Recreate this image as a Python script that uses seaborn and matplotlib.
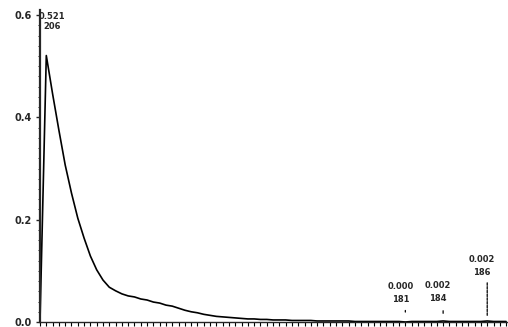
import matplotlib
matplotlib.use("Agg")
import matplotlib.pyplot as plt
import seaborn as sns
import pandas as pd

sns.set_style("ticks")
plt.rcParams["font.family"] = ["DejaVu Sans"]

# data: index along x and its frequency
steps = list(range(75))
freq = [0.000, 0.521, 0.446, 0.375, 0.307, 0.252, 0.203, 0.164, 0.129, 0.102,
        0.082, 0.068, 0.061, 0.055, 0.051, 0.049, 0.045, 0.043, 0.039, 0.037,
        0.033, 0.031, 0.027, 0.023, 0.020, 0.018, 0.015, 0.013, 0.011, 0.010,
        0.009, 0.008, 0.007, 0.006, 0.006, 0.005, 0.005, 0.004, 0.004, 0.004,
        0.003, 0.003, 0.003, 0.003, 0.002, 0.002, 0.002, 0.002, 0.002, 0.002,
        0.001, 0.001, 0.001, 0.001, 0.001, 0.001, 0.001, 0.001, 0.000, 0.001,
        0.001, 0.001, 0.001, 0.001, 0.002, 0.001, 0.001, 0.001, 0.001, 0.001,
        0.001, 0.002, 0.001, 0.001, 0.001]

# annotations: (x index, value text, count text)
ann_x = [1, 58, 64, 71]
ann_val = ["0.521", "0.000", "0.002", "0.002"]
ann_cnt = ["206", "181", "184", "186"]

yticks = [0.0, 0.2, 0.4, 0.6]
ytick_labels = ["0.0", "0.2", "0.4", "0.6"]

df = pd.DataFrame({"step": steps, "freq": freq})

fig = plt.figure(figsize=(5.08, 3.27), dpi=100)
ax = fig.add_axes([40 / 508, 5 / 327, 468 / 508, 312 / 327])
sns.lineplot(data=df, x="step", y="freq", ax=ax, color="black", linewidth=1.2)

ax.set_xlim(0, 74.3)
ax.set_ylim(0, 0.61)
ax.set_xlabel("")
ax.set_ylabel("")
ax.set_yticks(yticks)
ax.set_yticklabels(ytick_labels, fontsize=7, fontweight="bold")
ax.set_yticks([v / 100 for v in range(0, 61, 2)], minor=True)
ax.set_xticks(steps)
ax.set_xticklabels([])
ax.tick_params(axis="x", length=3, width=0.8, color="black")
ax.tick_params(axis="y", which="major", length=3, width=1.0, pad=3)
ax.tick_params(axis="y", which="minor", length=1.5, width=0.7)
for s in ["top", "right"]:
    ax.spines[s].set_visible(False)
ax.spines["left"].set_linewidth(1.6)
ax.spines["bottom"].set_linewidth(1.0)

# peak annotation
ax.text(ann_x[0] + 0.9, freq[ann_x[0]] + 0.077, ann_val[0], fontsize=6,
        fontweight="bold", ha="center", va="center")
ax.text(ann_x[0] + 0.9, freq[ann_x[0]] + 0.057, ann_cnt[0], fontsize=6,
        fontweight="bold", ha="center", va="center")

# tail annotations with leader lines
offsets = [None, 0.07, 0.07, 0.12]
for i in range(1, 4):
    xi = ann_x[i]
    v = freq[xi]
    off = offsets[i]
    ax.text(xi - 0.8, v + off, ann_val[i], fontsize=6, fontweight="bold",
            ha="center", va="center")
    ax.text(xi - 0.8, v + off - 0.026, ann_cnt[i], fontsize=6, fontweight="bold",
            ha="center", va="center")
ax.annotate("", xy=(ann_x[1], freq[ann_x[1]] + 0.014), xytext=(ann_x[1], freq[ann_x[1]] + 0.028),
            arrowprops=dict(arrowstyle="-", color="black", lw=0.9))
ax.annotate("", xy=(ann_x[2], freq[ann_x[2]] + 0.015), xytext=(ann_x[2], freq[ann_x[2]] + 0.02),
            arrowprops=dict(arrowstyle="-", color="black", lw=0.9))
ax.annotate("", xy=(ann_x[3], freq[ann_x[3]] + 0.005), xytext=(ann_x[3], freq[ann_x[3]] + 0.08),
            arrowprops=dict(arrowstyle="-", color="black", lw=0.9, linestyle=(0, (2, 1))))

fig.savefig("out.png", dpi=100)
